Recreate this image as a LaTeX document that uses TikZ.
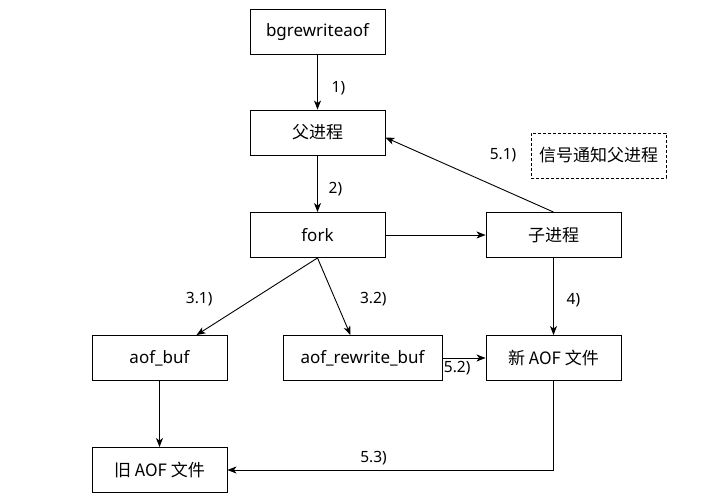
\documentclass[tikz,border=0pt]{standalone}
\usepackage{fontspec}
\usetikzlibrary{arrows.meta}
\setmainfont{Noto Sans}
\newfontfamily\cjk{Noto Sans CJK SC}
\begin{document}
\begin{tikzpicture}[
	x=1pt, y=-1pt, >={Stealth[length=9pt,width=7pt,inset=2.5pt]},
	every path/.style={ line width=0.9pt },
	proc/.style={ rectangle, draw, inner sep=0pt, minimum width=135pt, minimum height=45pt, font=\fontsize{17}{20}\selectfont },
	procw/.style={ proc, minimum width=159pt },
	note/.style={ proc, dash pattern=on 3pt off 2pt },
	lbl/.style={ inner sep=0pt, font=\fontsize{15.5}{18}\selectfont }
]
\useasboundingbox (0,0) rectangle (705,497);

\node[proc] at (317.5,32) (bg) {bgrewriteaof};
\node[proc] at (317.5,132.5) (parent) {\cjk 父进程};
\node[proc] at (317.5,235) (fork) {fork};
\node[proc] at (553.5,235) (child) {\cjk 子进程};
\node[note] at (598.5,155.5) (signal) {\cjk 信号通知父进程};
\node[proc] at (159.5,358) (aofbuf) {aof\_buf};
\node[procw] at (362.5,358) (rwbuf) {aof\_rewrite\_buf};
\node[proc] at (553.5,358) (newaof) {\cjk 新 AOF 文件};
\node[proc] at (159.5,470) (oldaof) {\cjk 旧 AOF 文件};

\draw[->] (bg) to node[lbl, pos=0.6, xshift=21pt] {1)} (parent);
\draw[->] (parent) to node[lbl, pos=0.6, xshift=18pt] {2)} (fork);
\draw[->] (fork) to (child);
\draw[->] (child.north) to node[lbl, pos=0.3, yshift=34pt] {5.1)} ([yshift=-5pt]parent.east);
\draw[->] (fork.south) to node[lbl, pos=0.54, xshift=-53pt] {3.1)} ([xshift=37pt]aofbuf.north);
\draw[->] (fork.south) to node[lbl, pos=0.54, xshift=38pt] {3.2)} ([xshift=-12pt]rwbuf.north);
\draw[->] (child) to node[lbl, pos=0.55, xshift=20pt] {4)} (newaof);
\draw[->] (rwbuf) to node[lbl, pos=0, anchor=north west, xshift=1pt, yshift=-3pt] {5.2)} (newaof);
\draw[->] (aofbuf) to (oldaof);
\draw[->] (newaof.south) |- node[lbl, pos=0.776, yshift=12pt] {5.3)} (oldaof.east);

\end{tikzpicture}
\end{document}
